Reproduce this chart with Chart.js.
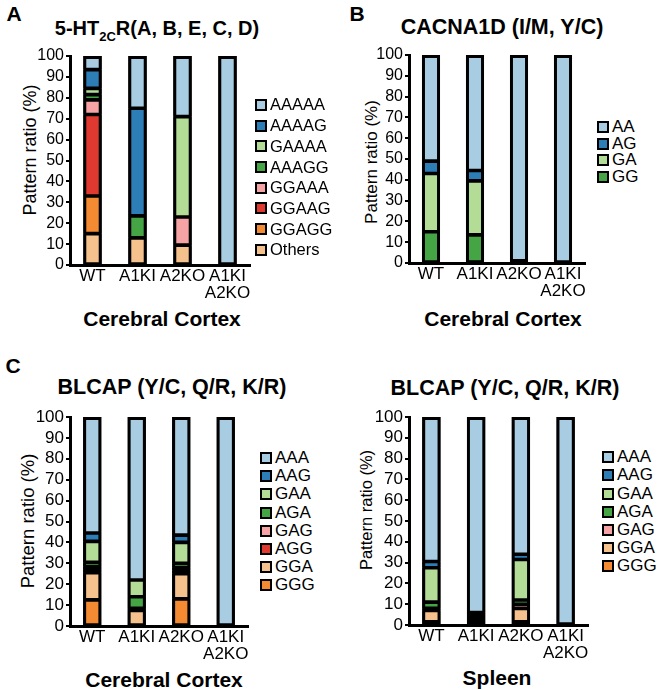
<!DOCTYPE html>
<html>
<head>
<meta charset="utf-8">
<script src="https://cdn.jsdelivr.net/npm/chart.js@4.4.1/dist/chart.umd.min.js"></script>
<style>
body{margin:0;background:#fff;width:660px;height:690px;position:relative;overflow:hidden;font-family:"Liberation Sans",Arial,sans-serif;color:#000}
canvas{position:absolute}
.t{position:absolute;white-space:nowrap;line-height:1;transform:translate(-50%,-50%)}
.b{font-weight:bold}
.yt{position:absolute;white-space:nowrap;line-height:1;transform:translate(-50%,-50%) rotate(-90deg)}
.t sub{font-size:13px;vertical-align:-6px;line-height:0}
.leg{position:absolute}
.leg div{display:flex;align-items:center;white-space:nowrap}
.leg span{display:inline-block;width:8px;height:8px;border:2px solid #000;margin-right:3px}
</style>
</head>
<body>
<div class="t b" style="left:14px;top:13px;font-size:21px">A</div>
<div class="t b" style="left:157px;top:28px;font-size:20px">5-HT<sub>2C</sub>R(A, B, E, C, D)</div>
<div class="yt" style="left:30px;top:150px;font-size:18px">Pattern ratio (%)</div>
<div class="t b" style="left:162px;top:318px;font-size:21px">Cerebral Cortex</div>

<div class="t b" style="left:357px;top:13px;font-size:21px">B</div>
<div class="t b" style="left:502px;top:28px;font-size:21.5px">CACNA1D (I/M, Y/C)</div>
<div class="yt" style="left:371px;top:162px;font-size:17px">Pattern ratio (%)</div>
<div class="t b" style="left:503px;top:318px;font-size:21px">Cerebral Cortex</div>

<div class="t b" style="left:13px;top:365px;font-size:21px">C</div>
<div class="t b" style="left:172px;top:388px;font-size:21.5px">BLCAP (Y/C, Q/R, K/R)</div>
<div class="yt" style="left:28px;top:521px;font-size:18.5px">Pattern ratio (%)</div>
<div class="t b" style="left:164px;top:679px;font-size:21px">Cerebral Cortex</div>

<div class="t b" style="left:505px;top:389px;font-size:21.5px">BLCAP (Y/C, Q/R, K/R)</div>
<div class="yt" style="left:366px;top:510px;font-size:16.5px">Pattern ratio (%)</div>
<div class="t b" style="left:497px;top:677px;font-size:21px">Spleen</div>

<canvas id="cA" width="256" height="265" style="left:0;top:40px"></canvas>
<canvas id="cB" width="252" height="263" style="left:339px;top:40px"></canvas>
<canvas id="cC" width="254" height="266" style="left:0;top:400px"></canvas>
<canvas id="cD" width="255" height="265" style="left:339px;top:400px"></canvas>

<script>
// categories and axis
const groups = ['WT', 'A1KI', 'A2KO', ['A1KI', 'A2KO']];
const yMax = 100, yStep = 10;

// A: 5-HT2CR, cerebral cortex (bottom -> top)
const htrNames = ['Others', 'GGAGG', 'GGAAG', 'GGAAA', 'AAAGG', 'GAAAA', 'AAAAG', 'AAAAA'];
const htrOthers = [15, 13, 9.5, 0];
const htrGGAGG  = [18, 0, 0, 0];
const htrGGAAG  = [39, 0, 0, 0];
const htrGGAAA  = [7, 0, 13.5, 0];
const htrAAAGG  = [2.5, 10.5, 0, 0];
const htrGAAAA  = [3, 0, 48, 0];
const htrAAAAG  = [9, 51.5, 0, 0];
const htrAAAAA  = [6.5, 25, 29, 100];

// B: CACNA1D, cerebral cortex
const cacNames = ['GG', 'GA', 'AG', 'AA'];
const cacGG = [15, 13.5, 0, 0];
const cacGA = [28, 26, 1, 0];
const cacAG = [6, 5, 0, 0];
const cacAA = [51, 55.5, 99, 100];

// C: BLCAP, cerebral cortex
const ctxNames = ['GGG', 'GGA', 'AGG', 'GAG', 'AGA', 'GAA', 'AAG', 'AAA'];
const ctxGGG = [12.5, 0, 13, 0];
const ctxGGA = [13, 7.5, 12, 0];
const ctxAGG = [1.5, 1, 1.5, 0];
const ctxGAG = [1.5, 0, 1.5, 0];
const ctxAGA = [2, 5.5, 2, 0];
const ctxGAA = [10, 8, 10, 0];
const ctxAAG = [4, 0, 3.5, 0];
const ctxAAA = [55.5, 78, 56.5, 100];

// D: BLCAP, spleen
const splNames = ['GGG', 'GGA', 'GAG', 'AGA', 'GAA', 'AAG', 'AAA'];
const splGGG = [1.5, 1, 1.5, 0];
const splGGA = [5.5, 1.5, 6.5, 0];
const splGAG = [1, 1, 2, 0];
const splAGA = [3, 1.5, 2, 0];
const splGAA = [16.5, 1, 19.5, 0];
const splAAG = [3, 0, 2.5, 0];
const splAAA = [69.5, 94, 66, 100];

const FONT = '"Liberation Sans", Arial, sans-serif';
const lblue = '#a8cde2', blue = '#2d7db7', lgreen = '#b3dc97', dgreen = '#45a545',
      pink = '#f5a3a5', red = '#e0392f', orange = '#f48b33', peach = '#f5c28e';
const BAR = 0.41;

function makeChart(id, names, series, colors, o) {
  const n = names.length;
  const sets = names.map((name, i) => ({
    label: name, data: series[i], backgroundColor: colors[i], borderColor: '#000',
    borderWidth: {left: 3, right: 3, top: i === n - 1 ? 3 : 1.8, bottom: 1.8},
    borderSkipped: false, categoryPercentage: 1, barPercentage: BAR, order: 0
  }));
  // black backing behind each stack so segment seams stay black
  const totals = groups.map((g, j) => series.reduce((a, s) => a + s[j], 0));
  sets.push({label: '', data: totals, backgroundColor: '#000', borderWidth: 0, stack: 'bg',
    grouped: false, order: 1, categoryPercentage: 1, barPercentage: BAR});
  new Chart(document.getElementById(id), {
    type: 'bar',
    data: {labels: groups, datasets: sets},
    options: {
      responsive: false, animation: false, devicePixelRatio: 1,
      layout: {padding: {top: o.pt, right: o.pr, left: 0, bottom: 0}},
      plugins: {legend: {display: false}, tooltip: {enabled: false}},
      scales: {
        x: {
          stacked: true,
          grid: {display: false, drawTicks: false},
          border: {color: '#000', width: 3, z: 1},
          ticks: {color: '#000', font: {family: FONT, size: 17, lineHeight: '17px'}, padding: 3, maxRotation: 0, autoSkip: false},
          afterFit(s) { s.height = 40; }
        },
        y: {
          stacked: true, min: 0, max: yMax,
          grid: {drawOnChartArea: false, drawTicks: true, tickLength: 4, color: '#000', lineWidth: 2},
          border: {color: '#000', width: 3},
          ticks: {stepSize: yStep, autoSkip: false, color: '#000', font: {family: FONT, size: o.tick}, padding: 2},
          afterFit(s) { s.width = 70; }
        }
      }
    }
  });
}

function legend(left, c0, step, size, names, colors) {
  const box = document.createElement('div');
  box.className = 'leg';
  box.style.left = left + 'px';
  box.style.top = (c0 - step / 2) + 'px';
  box.style.fontSize = size + 'px';
  for (let i = names.length - 1; i >= 0; i--) {
    const row = document.createElement('div');
    row.style.height = step + 'px';
    row.innerHTML = '<span style="background:' + colors[i] + '"></span>' + names[i];
    box.appendChild(row);
  }
  document.body.appendChild(box);
}

const htrColors = [peach, orange, red, pink, dgreen, lgreen, blue, lblue];
makeChart('cA', htrNames, [htrOthers, htrGGAGG, htrGGAAG, htrGGAAA, htrAAAGG, htrGAAAA, htrAAAAG, htrAAAAA], htrColors, {pt: 16, pr: 6, tick: 16});
legend(255, 105, 20.7, 16.5, htrNames, htrColors);

const cacColors = [dgreen, lgreen, blue, lblue];
makeChart('cB', cacNames, [cacGG, cacGA, cacAG, cacAA], cacColors, {pt: 15, pr: 6, tick: 16});
legend(597, 127, 16.7, 17, cacNames, cacColors);

const ctxColors = [orange, peach, red, pink, dgreen, lgreen, blue, lblue];
makeChart('cC', ctxNames, [ctxGGG, ctxGGA, ctxAGG, ctxGAG, ctxAGA, ctxGAA, ctxAAG, ctxAAA], ctxColors, {pt: 17, pr: 6, tick: 17});
legend(260, 458.3, 18.1, 17, ctxNames, ctxColors);

const splColors = [orange, peach, pink, dgreen, lgreen, blue, lblue];
makeChart('cD', splNames, [splGGG, splGGA, splGAG, splAGA, splGAA, splAAG, splAAA], splColors, {pt: 17, pr: 6, tick: 17});
legend(602, 457.3, 18.2, 17, splNames, splColors);
</script>
</body>
</html>
